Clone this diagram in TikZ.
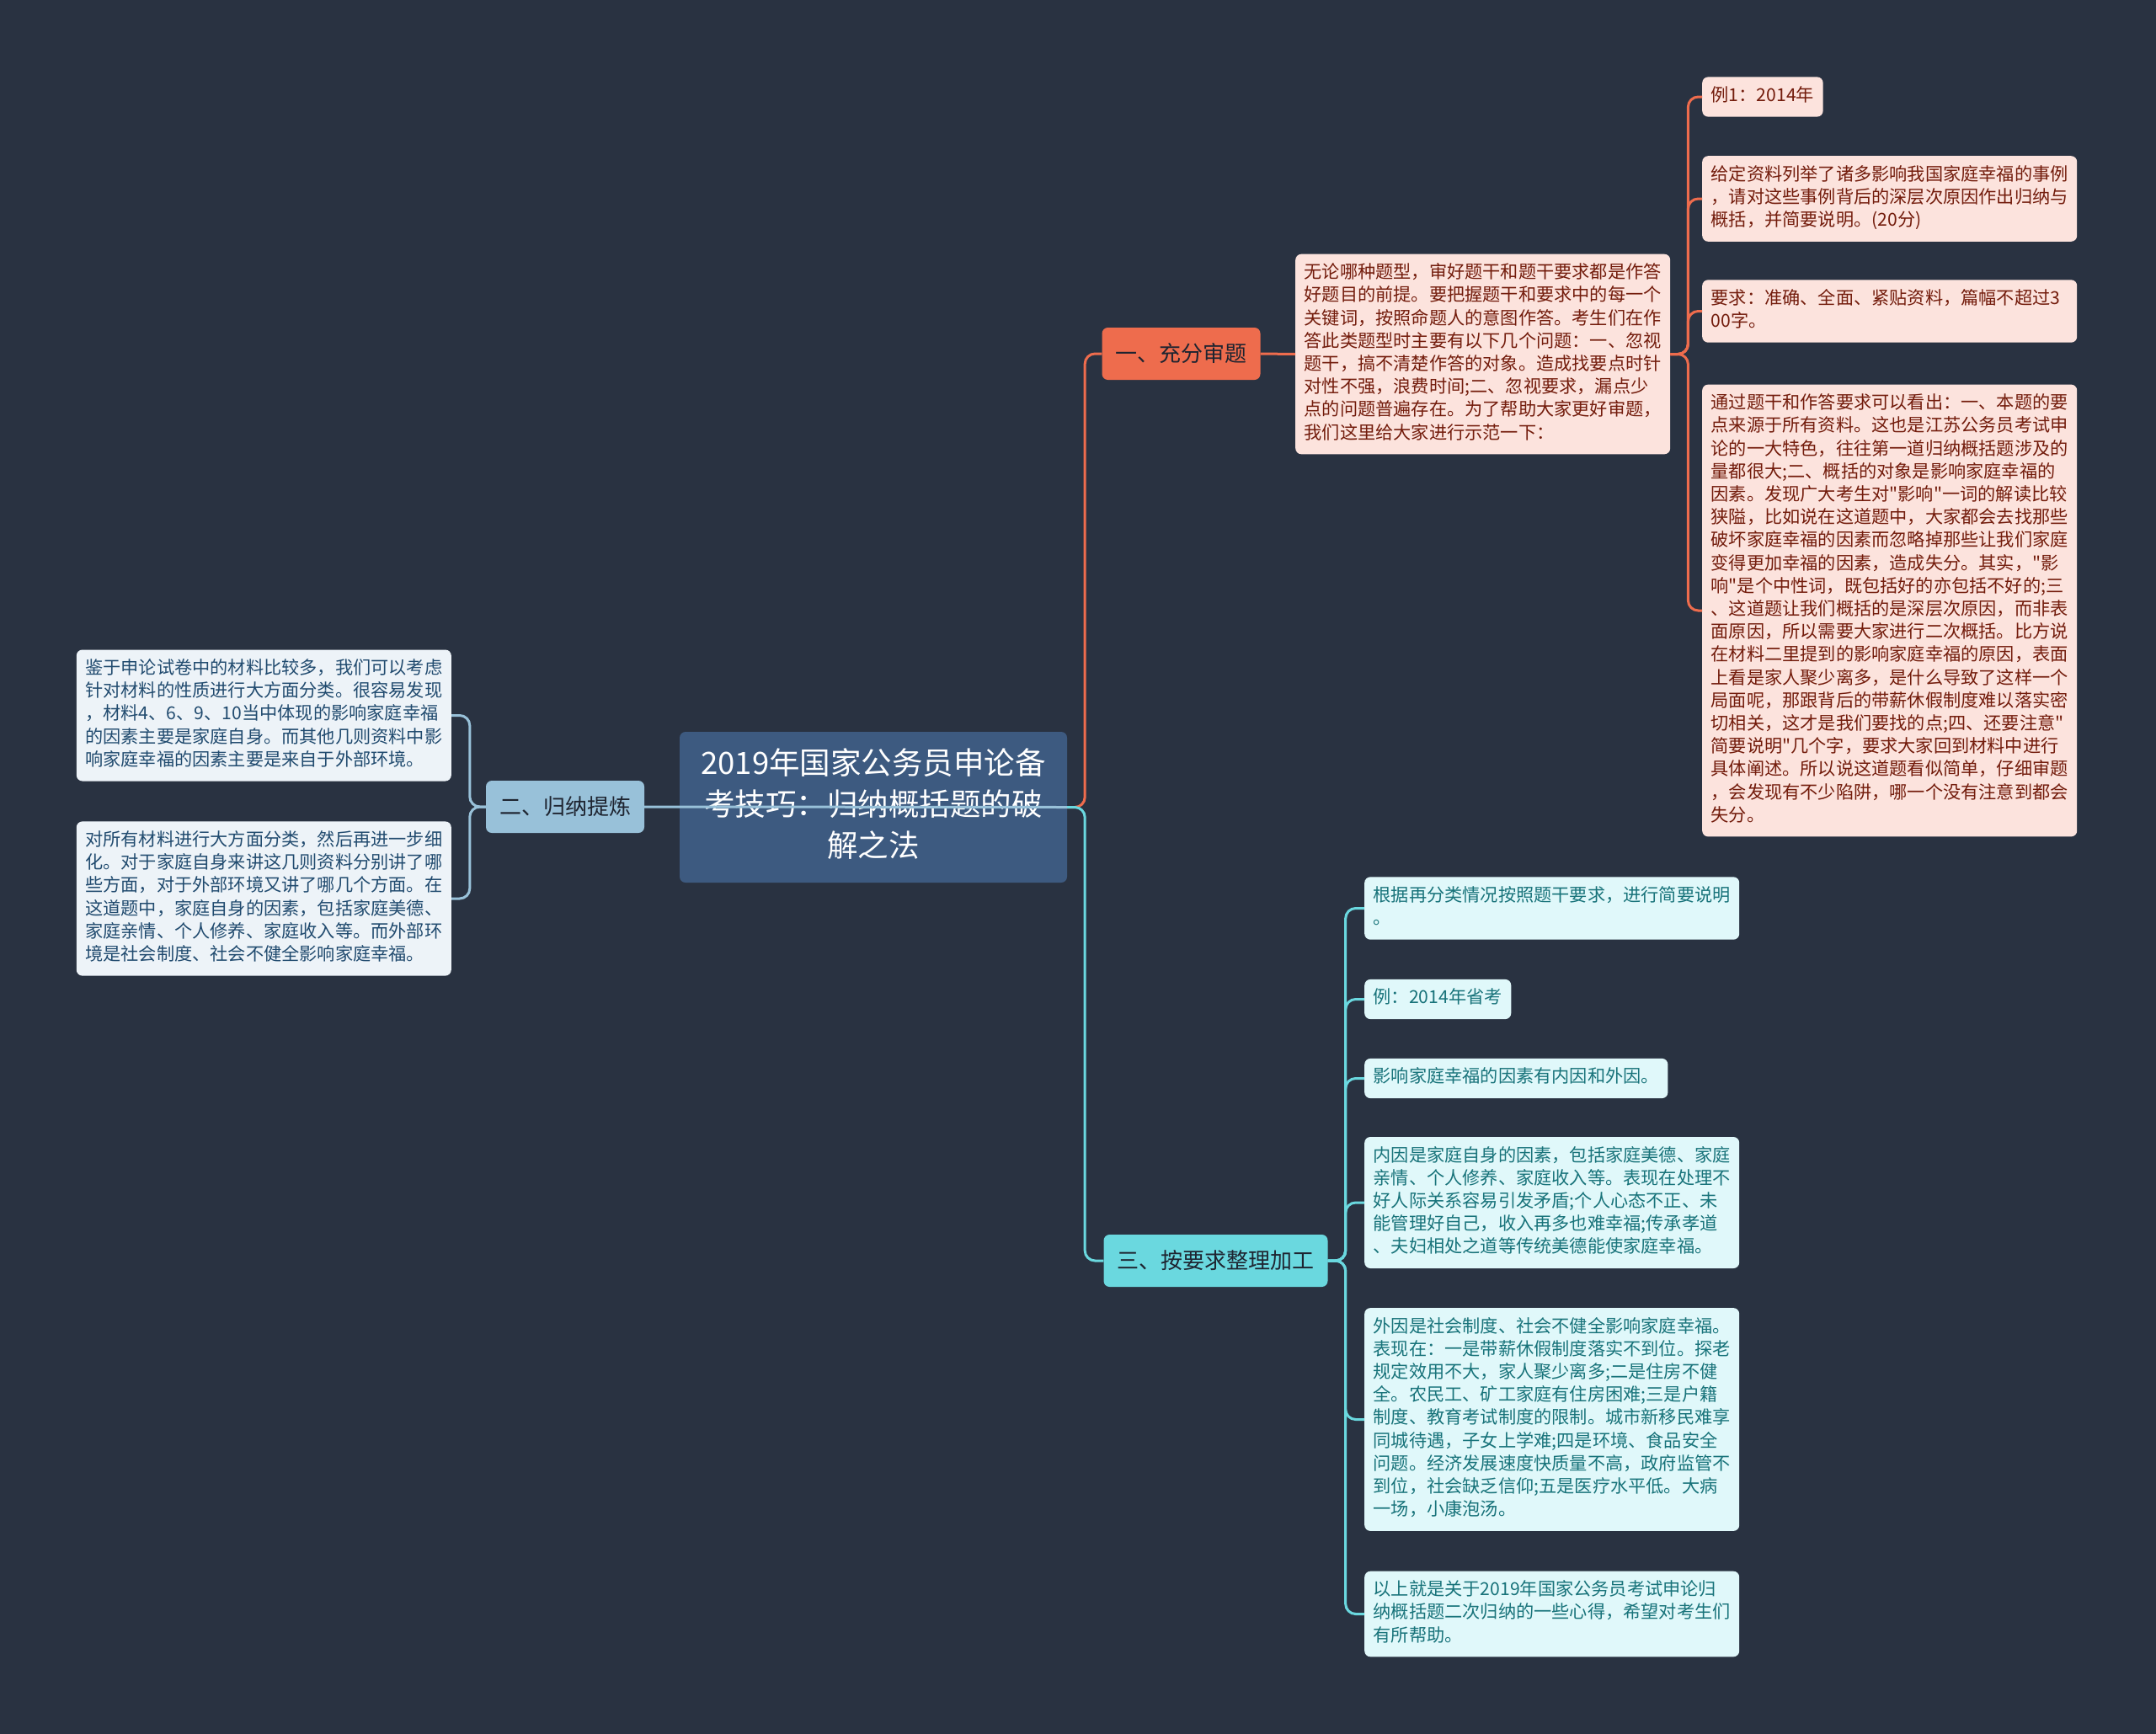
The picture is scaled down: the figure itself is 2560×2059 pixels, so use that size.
\documentclass[tikz,border=0pt]{standalone}
\usepackage{fontspec}
\setmainfont{Noto Sans CJK SC}[Ligatures=TeXOff]
\usetikzlibrary{positioning}
\definecolor{bgnavy}{HTML}{293241}
\definecolor{rootblue}{HTML}{3D5A80}
\definecolor{coral}{HTML}{EE6C4D}
\definecolor{skyblue}{HTML}{98C1D9}
\definecolor{aqua}{HTML}{6AD8DF}
\definecolor{pinkfill}{HTML}{FCE3DD}
\definecolor{pinktext}{HTML}{731C0C}
\definecolor{palefill}{HTML}{EDF3F8}
\definecolor{paletext}{HTML}{214B6F}
\definecolor{aquafill}{HTML}{E0F8FA}
\definecolor{aquatext}{HTML}{18737A}
\definecolor{darktext}{HTML}{1E2430}

\begin{document}
\begin{tikzpicture}[x=1pt,y=-1pt,
    leaf/.style={rounded corners=7pt, inner xsep=10.5pt, inner ysep=10pt, align=left,
      font=\fontsize{21.2}{27.2}\selectfont,
      execute at begin node=\strut, execute at end node=\strut},
    wide/.style={leaf, text width=424pt},
    branch/.style={rounded corners=7pt, inner xsep=16pt, inner ysep=0pt, minimum height=62pt,
      font=\fontsize{26}{32}\selectfont, text=darktext},
    link/.style={line width=3pt, rounded corners=12pt}]
    % background
    \fill[bgnavy] (0,0) rectangle (2560,2059);
    \useasboundingbox (0,0) rectangle (2560,2059);

    % root
    \node[fill=rootblue, text=white, rounded corners=7pt, align=center, text width=414pt,
      inner xsep=23pt, inner ysep=16pt, font=\fontsize{36.5}{49}\selectfont,
      execute at begin node=\strut, execute at end node=\strut]
      (root) at (1037,958.5) {2019年国家公务员申论备\\考技巧：归纳概括题的破\\解之法};

    % branches
    \node[branch, fill=coral] (shen) at (1402.5,420) {一、充分审题};
    \node[branch, fill=skyblue] (gui) at (671,958) {二、归纳提炼};
    \node[branch, fill=aqua] (zheng) at (1443.5,1497) {三、按要求整理加工};

    % first branch
    \node[wide, fill=pinkfill, text=pinktext, anchor=west] (shenA) at (1538,420.5)
      {无论哪种题型，审好题干和题干要求都是作答\\好题目的前提。要把握题干和要求中的每一个\\关键词，按照命题人的意图作答。考生们在作\\答此类题型时主要有以下几个问题：一、忽视\\题干，搞不清楚作答的对象。造成找要点时针\\对性不强，浪费时间;二、忽视要求，漏点少\\点的问题普遍存在。为了帮助大家更好审题，\\我们这里给大家进行示范一下：};
    \node[leaf, fill=pinkfill, text=pinktext, anchor=west] (li1) at (2021,115) {例1：2014年};
    \node[wide, fill=pinkfill, text=pinktext, anchor=west] (li2) at (2021,236)
      {给定资料列举了诸多影响我国家庭幸福的事例\\，请对这些事例背后的深层次原因作出归纳与\\概括，并简要说明。(20分)};
    \node[wide, fill=pinkfill, text=pinktext, anchor=west] (li3) at (2021,369.5)
      {要求：准确、全面、紧贴资料，篇幅不超过3\\00字。};
    \node[wide, fill=pinkfill, text=pinktext, anchor=west] (li4) at (2021,725)
      {通过题干和作答要求可以看出：一、本题的要\\点来源于所有资料。这也是江苏公务员考试申\\论的一大特色，往往第一道归纳概括题涉及的\\量都很大;二、概括的对象是影响家庭幸福的\\因素。发现广大考生对"影响"一词的解读比较\\狭隘，比如说在这道题中，大家都会去找那些\\破坏家庭幸福的因素而忽略掉那些让我们家庭\\变得更加幸福的因素，造成失分。其实，"影\\响"是个中性词，既包括好的亦包括不好的;三\\、这道题让我们概括的是深层次原因，而非表\\面原因，所以需要大家进行二次概括。比方说\\在材料二里提到的影响家庭幸福的原因，表面\\上看是家人聚少离多，是什么导致了这样一个\\局面呢，那跟背后的带薪休假制度难以落实密\\切相关，这才是我们要找的点;四、还要注意"\\简要说明"几个字，要求大家回到材料中进行\\具体阐述。所以说这道题看似简单，仔细审题\\，会发现有不少陷阱，哪一个没有注意到都会\\失分。};

    % second branch
    \node[wide, fill=palefill, text=paletext, anchor=east] (gu1) at (536,849.5)
      {鉴于申论试卷中的材料比较多，我们可以考虑\\针对材料的性质进行大方面分类。很容易发现\\，材料4、6、9、10当中体现的影响家庭幸福\\的因素主要是家庭自身。而其他几则资料中影\\响家庭幸福的因素主要是来自于外部环境。};
    \node[wide, fill=palefill, text=paletext, anchor=east] (gu2) at (536,1067)
      {对所有材料进行大方面分类，然后再进一步细\\化。对于家庭自身来讲这几则资料分别讲了哪\\些方面，对于外部环境又讲了哪几个方面。在\\这道题中，家庭自身的因素，包括家庭美德、\\家庭亲情、个人修养、家庭收入等。而外部环\\境是社会制度、社会不健全影响家庭幸福。};

    % third branch
    \node[wide, fill=aquafill, text=aquatext, anchor=west] (zh1) at (1620,1078.5)
      {根据再分类情况按照题干要求，进行简要说明\\。};
    \node[leaf, fill=aquafill, text=aquatext, anchor=west] (zh2) at (1620,1186.5) {例：2014年省考};
    \node[leaf, fill=aquafill, text=aquatext, anchor=west] (zh3) at (1620,1280.5) {影响家庭幸福的因素有内因和外因。};
    \node[wide, fill=aquafill, text=aquatext, anchor=west] (zh4) at (1620,1428)
      {内因是家庭自身的因素，包括家庭美德、家庭\\亲情、个人修养、家庭收入等。表现在处理不\\好人际关系容易引发矛盾;个人心态不正、未\\能管理好自己，收入再多也难幸福;传承孝道\\、夫妇相处之道等传统美德能使家庭幸福。};
    \node[wide, fill=aquafill, text=aquatext, anchor=west] (zh5) at (1620,1685.5)
      {外因是社会制度、社会不健全影响家庭幸福。\\表现在：一是带薪休假制度落实不到位。探老\\规定效用不大，家人聚少离多;二是住房不健\\全。农民工、矿工家庭有住房困难;三是户籍\\制度、教育考试制度的限制。城市新移民难享\\同城待遇，子女上学难;四是环境、食品安全\\问题。经济发展速度快质量不高，政府监管不\\到位，社会缺乏信仰;五是医疗水平低。大病\\一场，小康泡汤。};
    \node[wide, fill=aquafill, text=aquatext, anchor=west] (zh6) at (1620,1916.5)
      {以上就是关于2019年国家公务员考试申论归\\纳概括题二次归纳的一些心得，希望对考生们\\有所帮助。};

    % connectors
    \draw[link, coral] (root.east) -- ++(21,0) |- (shen.west);
    \draw[link, aqua] (root.east) -- ++(21,0) |- (zheng.west);
    \draw[link, coral] (shen.east) -- (shenA.west);
    \foreach \k in {li1,li2,li3,li4}
      \draw[link, coral] (shenA.east) -- ++(21,0) |- (\k.west);
    \foreach \k in {gu1,gu2}
      \draw[link, skyblue] (gui.west) -- ++(-19,0) |- (\k.east);
    \foreach \k in {zh1,zh2,zh3,zh4,zh5,zh6}
      \draw[link, aqua] (zheng.east) -- ++(21,0) |- (\k.west);
    \draw[link, skyblue] (gui.east) -- (root.east);
\end{tikzpicture}
\end{document}
